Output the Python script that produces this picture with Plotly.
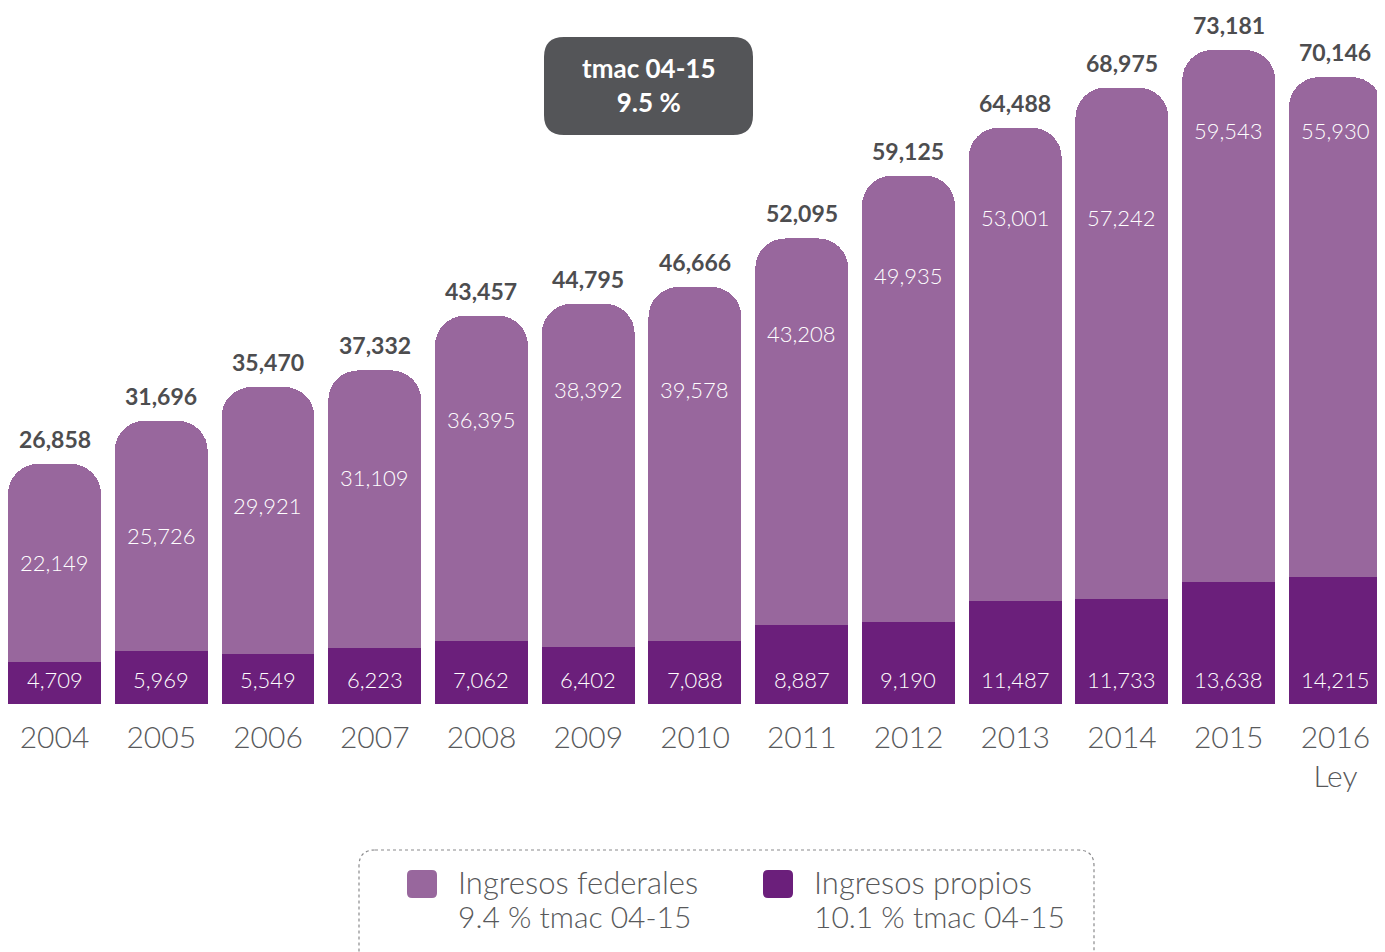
import plotly.graph_objects as go

# ---------------- data ----------------
years = ["2004", "2005", "2006", "2007", "2008", "2009", "2010",
         "2011", "2012", "2013", "2014", "2015", "2016<br>Ley"]
propios = [4709, 5969, 5549, 6223, 7062, 6402, 7088,
           8887, 9190, 11487, 11733, 13638, 14215]
federales = [22149, 25726, 29921, 31109, 36395, 38392, 39578,
             43208, 49935, 53001, 57242, 59543, 55930]
totales = [26858, 31696, 35470, 37332, 43457, 44795, 46666,
           52095, 59125, 64488, 68975, 73181, 70146]
legend_names = ["Ingresos federales", "Ingresos propios"]
legend_rates = ["9.4 % tmac 04-15", "10.1 % tmac 04-15"]
tmac_text = "tmac 04-15<br>9.5 %"

# label heights (layout) for the federal labels, in data units
fed_label_y = [15780, 18910, 22160, 25400, 31890, 35140, 35140,
               41510, 48000, 54490, 54490, 64120, 64120]

# ---------------- style ----------------
W, H = 1385, 952
OFF = 8  # page body margin
C_FED = "#98679D"
C_PRO = "#6B1F7B"
C_TXT = "#4D4D4F"
C_AX = "#58595B"
FONT = "Lato"
BASE = 704 - OFF  # baseline in figure pixels
YMAX = BASE / 0.0089367

fig = go.Figure()
fig.add_trace(go.Bar(x=years, y=propios, name=legend_names[1],
                     marker=dict(color=C_PRO, line=dict(width=0)),
                     hoverinfo="skip"))
fig.add_trace(go.Bar(x=years, y=federales, name=legend_names[0],
                     marker=dict(color=C_FED, line=dict(width=0), cornerradius=30),
                     hoverinfo="skip"))

ann = []
for i, yr in enumerate(years):
    ann.append(dict(x=i, y=totales[i], text=f"<b>{totales[i]:,}</b>", showarrow=False,
                    yshift=25, font=dict(family=FONT, size=23, color=C_TXT)))
    ann.append(dict(x=i, y=fed_label_y[i], text=f"{federales[i]:,}", showarrow=False,
                    font=dict(family=FONT, size=22, color="white", weight=300)))
    ann.append(dict(x=i, y=0, text=f"{propios[i]:,}", showarrow=False,
                    yshift=25, font=dict(family=FONT, size=22, color="white", weight=300)))


def px(x):
    return (x - OFF) / W


def py(y):
    return (704 - y) / BASE


def rrect(x0, y0, x1, y1, r):
    X = px
    Y = py
    return (f"M {X(x0 + r)} {Y(y0)} L {X(x1 - r)} {Y(y0)} "
            f"Q {X(x1)} {Y(y0)} {X(x1)} {Y(y0 + r)} L {X(x1)} {Y(y1 - r)} "
            f"Q {X(x1)} {Y(y1)} {X(x1 - r)} {Y(y1)} L {X(x0 + r)} {Y(y1)} "
            f"Q {X(x0)} {Y(y1)} {X(x0)} {Y(y1 - r)} L {X(x0)} {Y(y0 + r)} "
            f"Q {X(x0)} {Y(y0)} {X(x0 + r)} {Y(y0)} Z")


shapes = [
    dict(type="path", xref="paper", yref="paper", path=rrect(544, 37, 753, 135, 20),
         fillcolor="#545558", line=dict(width=0), layer="above"),
    dict(type="path", xref="paper", yref="paper", path=rrect(359, 850, 1094, 975, 16),
         fillcolor="rgba(0,0,0,0)", line=dict(color="#8A8A8C", width=1.2, dash="dot")),
    dict(type="path", xref="paper", yref="paper", path=rrect(407, 870, 437, 898, 5),
         fillcolor=C_FED, line=dict(width=0)),
    dict(type="path", xref="paper", yref="paper", path=rrect(763, 870, 793, 898, 5),
         fillcolor=C_PRO, line=dict(width=0)),
]

ann.append(dict(xref="paper", yref="paper", x=px(648.5), y=py(85), xanchor="center",
                yanchor="middle", text=f"<b>{tmac_text}</b>",
                showarrow=False, font=dict(family=FONT, size=26, color="white"),
                align="center"))
for xl, nm, rt in [(456, legend_names[0], legend_rates[0]), (812, legend_names[1], legend_rates[1])]:
    ann.append(dict(xref="paper", yref="paper", x=px(xl), y=py(882), xanchor="left",
                    yanchor="middle", text=nm, showarrow=False,
                    font=dict(family=FONT, size=31, color=C_AX, weight=300)))
    ann.append(dict(xref="paper", yref="paper", x=px(xl), y=py(916), xanchor="left",
                    yanchor="middle", text=rt, showarrow=False,
                    font=dict(family=FONT, size=30, color=C_AX, weight=300)))

fig.update_layout(
    width=W, height=H,
    barmode="stack", bargap=0.129,
    showlegend=False,
    paper_bgcolor="white", plot_bgcolor="white",
    margin=dict(l=0, r=0, t=0, b=H - BASE),
    annotations=ann, shapes=shapes,
    xaxis=dict(type="category", range=[-0.4356, 12.539], showgrid=False, zeroline=False,
               showline=False, ticks="", fixedrange=True, ticklabelstandoff=13,
               tickfont=dict(family=FONT, size=30, color=C_AX, weight=300)),
    yaxis=dict(range=[0, YMAX], visible=False, fixedrange=True),
)

fig.write_html("out.html")
